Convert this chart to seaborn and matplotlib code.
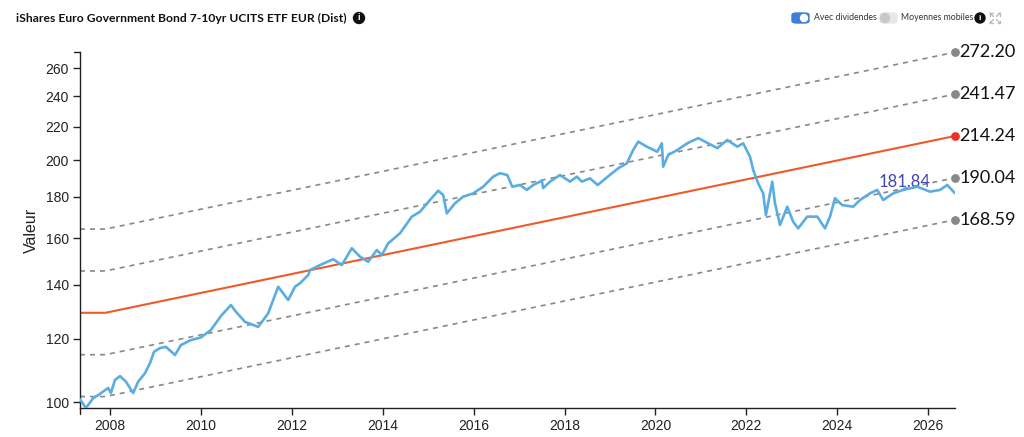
import numpy as np
import pandas as pd
import seaborn as sns
import matplotlib.pyplot as plt
from matplotlib.patches import FancyBboxPatch, Ellipse
from matplotlib.lines import Line2D

# price series (decimal years, value)
dates = [2007.34, 2007.47, 2007.63, 2007.74, 2007.96, 2008.02, 2008.11, 2008.22, 2008.35, 2008.51,
         2008.62, 2008.77, 2008.88, 2008.97, 2009.10, 2009.23, 2009.43, 2009.56, 2009.78, 2010.00,
         2010.22, 2010.44, 2010.66, 2010.77, 2010.97, 2011.26, 2011.48, 2011.70, 2011.92, 2012.07,
         2012.18, 2012.36, 2012.40, 2012.62, 2012.91, 2013.10, 2013.32, 2013.50, 2013.68, 2013.87,
         2013.98, 2014.12, 2014.38, 2014.64, 2014.82, 2015.04, 2015.22, 2015.33, 2015.41, 2015.59,
         2015.77, 2015.99, 2016.21, 2016.43, 2016.58, 2016.74, 2016.85, 2017.02, 2017.17, 2017.31,
         2017.50, 2017.53, 2017.68, 2017.90, 2018.12, 2018.27, 2018.38, 2018.56, 2018.73, 2018.95,
         2019.18, 2019.37, 2019.51, 2019.62, 2019.81, 2020.04, 2020.14, 2020.17, 2020.28, 2020.48,
         2020.70, 2020.94, 2021.16, 2021.36, 2021.58, 2021.80, 2021.93, 2022.08, 2022.15, 2022.26,
         2022.37, 2022.43, 2022.57, 2022.63, 2022.74, 2022.90, 2023.03, 2023.14, 2023.34, 2023.56,
         2023.73, 2023.84, 2023.95, 2024.11, 2024.35, 2024.50, 2024.72, 2024.88, 2025.01, 2025.23,
         2025.45, 2025.76, 2026.04, 2026.26, 2026.42, 2026.59]
values = [100.9, 98.4, 101.2, 102.1, 104.2, 102.7, 106.6, 107.8, 106.1, 102.7,
          106.1, 108.7, 111.9, 115.6, 116.8, 117.2, 114.5, 117.8, 119.5, 120.4,
          123.0, 128.0, 132.1, 129.6, 125.9, 124.1, 129.0, 139.2, 134.0, 139.2,
          140.6, 143.9, 146.0, 148.1, 150.6, 148.1, 155.4, 151.7, 149.5, 154.6,
          152.4, 157.6, 162.2, 170.1, 172.5, 178.4, 183.2, 181.0, 171.7, 176.7,
          180.1, 181.8, 185.3, 190.7, 192.6, 191.6, 185.3, 186.2, 183.6, 186.2,
          188.5, 184.6, 188.0, 191.6, 188.0, 190.7, 188.0, 189.8, 186.2, 190.7,
          195.3, 198.1, 205.8, 210.8, 207.8, 204.8, 209.8, 196.2, 202.9, 205.8,
          209.8, 212.9, 209.8, 206.9, 211.8, 207.8, 209.8, 201.9, 194.4, 187.1,
          181.8, 170.9, 188.0, 176.7, 166.1, 175.0, 167.6, 164.5, 170.1, 170.1,
          164.5, 170.1, 179.3, 175.8, 175.0, 178.4, 181.8, 183.6, 178.4, 181.8,
          183.6, 185.3, 182.7, 183.6, 186.2, 181.84]

# regression trend line and channel end labels
trend_dates = [2007.34, 2007.90, 2026.59]
trend_values = [129.2, 129.2, 214.24]
band_labels = [272.20, 241.47, 214.24, 190.04, 168.59]

x_ticks = list(range(2008, 2027, 2))
y_ticks = [100, 120, 140, 160, 180, 200, 220, 240, 260]

sns.set_theme(style="ticks")
plt.rcParams["font.family"] = ["Liberation Sans", "DejaVu Sans"]

W, H = 1024, 437
fig = plt.figure(figsize=(W / 100, H / 100), dpi=100)
ax = fig.add_axes([80 / W, 1 - 408 / H, 875 / W, 356 / H])


def dot(px, py, r, color):
    # round marker placed in pixel units on the figure
    fig.patches.append(Ellipse((px / W, 1 - py / H), 2 * r / W, 2 * r / H,
                               transform=fig.transFigure, color=color))


df = pd.DataFrame({"date": dates, "value": values})
trend = pd.DataFrame({"date": trend_dates, "value": trend_values})

# channel lines (dashed) and trend (orange)
for lab in band_labels:
    band = trend.copy()
    band["value"] = trend["value"] * lab / band_labels[2]
    if lab == band_labels[2]:
        sns.lineplot(data=band, x="date", y="value", ax=ax, color="#f05a28", lw=1.5)
        c = "#e8322a"
    else:
        sns.lineplot(data=band, x="date", y="value", ax=ax, color="#888888", lw=1.2,
                     linestyle=(0, (3, 3)))
        c = "#888888"
    ax.scatter([band["date"].iloc[-1]], [band["value"].iloc[-1]], s=28, color=c,
               zorder=5, clip_on=False)
    ax.text(band["date"].iloc[-1] + 0.1, band["value"].iloc[-1], f"{lab:.2f}",
            fontsize=13, va="center", ha="left", family=["Lato", "DejaVu Sans"],
            color="#111111", clip_on=False)

sns.lineplot(data=df, x="date", y="value", ax=ax, color="#5aade0", lw=1.9, zorder=4)
ax.text(dates[-1] - 1.1, values[-1] * 1.033, f"{values[-1]:.2f}", fontsize=12,
        color="#4048b8", ha="center", va="center", family=["Lato", "DejaVu Sans"])

ax.set_yscale("log")
ax.set_ylim(98.4, 272.4)
ax.set_xlim(dates[0], dates[-1])
ax.set_yticks(y_ticks)
ax.set_yticklabels([str(v) for v in y_ticks])
ax.yaxis.set_minor_locator(plt.NullLocator())
ax.set_xticks(x_ticks)
ax.set_xticklabels([str(v) for v in x_ticks])
ax.tick_params(axis="both", labelsize=10, length=5, width=1, color="#222222",
               labelcolor="#222222", direction="out", pad=3)
ax.set_xlabel("")
ax.set_ylabel("Valeur", fontsize=11.5, color="#222222", labelpad=5)
sns.despine(ax=ax)
for s in ["left", "bottom"]:
    ax.spines[s].set_color("#222222")
    ax.spines[s].set_linewidth(1)
# outer ticks at the axis ends
ax.add_line(Line2D([-0.007, 0], [1, 1], transform=ax.transAxes, color="#222222", lw=1,
                   clip_on=False))
ax.add_line(Line2D([0, 0], [0, -0.016], transform=ax.transAxes, color="#222222", lw=1,
                   clip_on=False))

# header
fig.text(16 / W, 1 - 18 / H, "iShares Euro Government Bond 7-10yr UCITS ETF EUR (Dist)",
         fontsize=8.7, fontweight="bold", va="center", ha="left", color="#111111",
         family=["Lato", "DejaVu Sans"])
dot(359, 18, 5.5, "#111111")
fig.text(359 / W, 1 - 18 / H, "i", fontsize=6.5, color="white", fontweight="bold",
         ha="center", va="center")

# toggles
fig.patches.append(FancyBboxPatch((792 / W, 1 - 23 / H), 17 / W, 10 / H,
                                  boxstyle="round,pad=0,rounding_size=0.0045",
                                  transform=fig.transFigure, color="#3d7fd9"))
dot(804, 18, 3.5, "white")
fig.text(814 / W, 1 - 18 / H, "Avec dividendes", fontsize=6.3, va="center", ha="left",
         color="#333333", family=["Lato", "DejaVu Sans"])
fig.patches.append(FancyBboxPatch((880 / W, 1 - 23 / H), 17 / W, 10 / H,
                                  boxstyle="round,pad=0,rounding_size=0.0045",
                                  transform=fig.transFigure, color="#e8e8e8"))
dot(885, 18, 4.5, "#c8c8c8")
fig.text(901 / W, 1 - 18 / H, "Moyennes mobiles", fontsize=6.3, va="center", ha="left",
         color="#333333", family=["Lato", "DejaVu Sans"])
dot(980, 18, 5, "#111111")
fig.text(980 / W, 1 - 18 / H, "i", fontsize=6, color="white", fontweight="bold",
         ha="center", va="center")
# expand icon drawn as four small corner arrows
for sx in (-1, 1):
    for sy in (-1, 1):
        cx, cy = 995, 18
        fig.add_artist(Line2D([(cx + sx * 1.5) / W, (cx + sx * 5) / W],
                              [1 - (cy + sy * 1.5) / H, 1 - (cy + sy * 5) / H],
                              color="#bbbbbb", lw=1))
        fig.add_artist(Line2D([(cx + sx * 5) / W, (cx + sx * 5) / W, (cx + sx * 2.5) / W],
                              [1 - (cy + sy * 2.5) / H, 1 - (cy + sy * 5) / H,
                               1 - (cy + sy * 5) / H], color="#bbbbbb", lw=1))

fig.savefig("out.png", dpi=100)
